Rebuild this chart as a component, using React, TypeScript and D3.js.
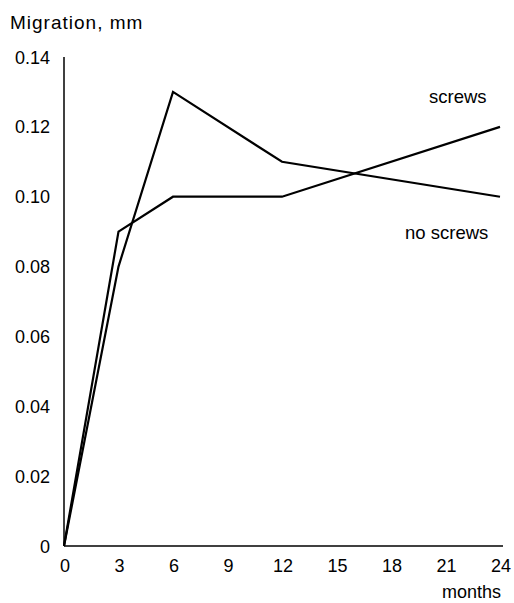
import React from 'react';
import * as d3 from 'd3';

const months = [0, 3, 6, 12, 24];
const screws = [0, 0.09, 0.1, 0.1, 0.12];
const noScrews = [0, 0.08, 0.13, 0.11, 0.1];
const xTicks = [0, 3, 6, 9, 12, 15, 18, 21, 24];
const yTicks = [0, 0.02, 0.04, 0.06, 0.08, 0.1, 0.12, 0.14];

const W = 514;
const H = 603;
const font = '"Liberation Sans", Arial, sans-serif';

const x = d3.scaleLinear().domain([0, 24]).range([64, 500]);
const y = d3.scaleLinear().domain([0, 0.14]).range([546, 57]);

const line = d3
  .line<number>()
  .x((d, i) => x(months[i]))
  .y((d) => y(d));

const fmtY = (v: number) => (v === 0 ? '0' : d3.format('.2f')(v));

export default function App() {
  return (
    <svg
      width={W}
      height={H}
      style={{ position: 'absolute', left: 0, top: 0, background: '#fff' }}
      fontFamily={font}
    >
      <text x={10} y={29} fontSize={19} letterSpacing={1}>
        Migration, mm
      </text>

      {/* axes, no tick marks */}
      <line x1={x(0)} x2={x(0)} y1={y(0.14)} y2={y(0)} stroke="#000" strokeWidth={1.5} />
      <line x1={x(0)} x2={503} y1={y(0)} y2={y(0)} stroke="#000" strokeWidth={1.5} />

      {yTicks.map((t) => (
        <text key={t} x={50} y={y(t) + 6.5} fontSize={18} textAnchor="end">
          {fmtY(t)}
        </text>
      ))}
      {xTicks.map((t) => (
        <text key={t} x={x(t) + 1} y={572} fontSize={18} textAnchor="middle">
          {t}
        </text>
      ))}
      <text x={501} y={598} fontSize={18} textAnchor="end">
        months
      </text>

      <path d={line(screws) || ''} fill="none" stroke="#000" strokeWidth={2.2} strokeLinejoin="miter" />
      <path d={line(noScrews) || ''} fill="none" stroke="#000" strokeWidth={2.2} strokeLinejoin="miter" />

      <text x={429} y={103} fontSize={18.5}>
        screws
      </text>
      <text x={405} y={239} fontSize={18.5}>
        no screws
      </text>
    </svg>
  );
}
